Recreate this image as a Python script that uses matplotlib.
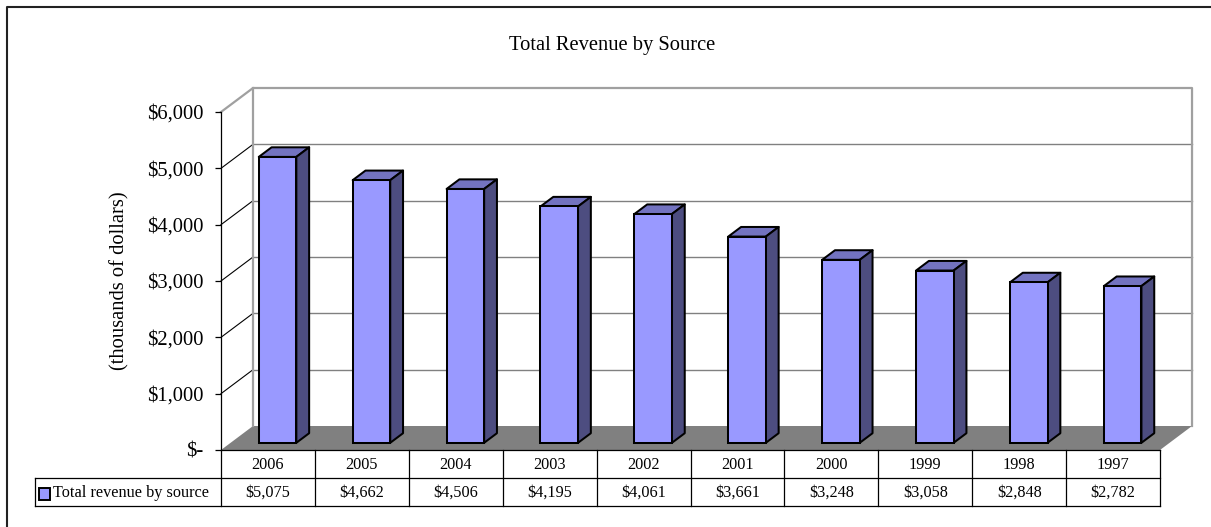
# 绘制 Total Revenue by Source 的三维柱状图（带数据表）。

import matplotlib
from matplotlib.lines import Line2D
from matplotlib.patches import Polygon, Rectangle

matplotlib.use("Agg")
import matplotlib.pyplot as plt

YEARS = ["2006", "2005", "2004", "2003", "2002", "2001", "2000", "1999", "1998", "1997"]
REVENUE = [5075, 4662, 4506, 4195, 4061, 3661, 3248, 3058, 2848, 2782]
Y_TICKS = [0, 1000, 2000, 3000, 4000, 5000, 6000]
TITLE = "Total Revenue by Source"
Y_LABEL = "(thousands of dollars)"
SERIES_NAME = "Total revenue by source"

FRONT = "#9999FF"
TOP = "#7373C0"
SIDE = "#4D4D80"
FLOOR = "#808080"
WALL_EDGE = "#A0A0A0"
GRID = "#808080"

W, H = 1211, 527
DEPTH_X = 0.341  # 墙的透视深度（类别单位）
DEPTH_Y = 426    # 墙的透视深度（数值单位）
BAR_DEPTH = (0.3, 0.7)
BAR_SPAN = (0.3, 0.7)
BAR_LW = 1.45


def fmt_money(v):
    return "$-" if v == 0 else f"${v:,.0f}"


def px_box(left, top, right, bottom):
    return [left / W, 1 - bottom / H, (right - left) / W, (bottom - top) / H]


def draw_walls(ax, n, ymax):
    dx, dy = DEPTH_X, DEPTH_Y
    # 地板
    ax.add_patch(Polygon([(0, 0), (n, 0), (n + dx, dy), (dx, dy)], closed=True,
                         facecolor=FLOOR, edgecolor="none", clip_on=False, zorder=1))
    # 背墙网格线与侧墙斜线
    for v in Y_TICKS[1:-1]:
        ax.plot([dx, n + dx], [v + dy, v + dy], color=GRID, lw=1.0, clip_on=False, zorder=1)
        ax.plot([0, dx], [v, v + dy], color="black", lw=0.8, clip_on=False, zorder=1)
    # 墙的边框
    ax.plot([0, dx, n + dx, n + dx], [ymax, ymax + dy, ymax + dy, dy],
            color=WALL_EDGE, lw=1.6, clip_on=False, zorder=1)
    ax.plot([dx, dx], [dy, ymax + dy], color=WALL_EDGE, lw=1.6, clip_on=False, zorder=1)


def draw_bars(ax):
    f0, f1 = BAR_DEPTH
    ox0, oy0 = DEPTH_X * f0, DEPTH_Y * f0
    ox1, oy1 = DEPTH_X * f1, DEPTH_Y * f1
    width = BAR_SPAN[1] - BAR_SPAN[0]
    lefts = [i + BAR_SPAN[0] + ox0 for i in range(len(REVENUE))]
    ax.bar(lefts, REVENUE, width=width, bottom=oy0, align="edge", color=FRONT,
           edgecolor="black", linewidth=BAR_LW, clip_on=False, zorder=3)
    for x0, v in zip(lefts, REVENUE):
        x1 = x0 + width
        top = [(x0, v + oy0), (x1, v + oy0), (x1 + ox1 - ox0, v + oy1), (x0 + ox1 - ox0, v + oy1)]
        side = [(x1, oy0), (x1 + ox1 - ox0, oy1), (x1 + ox1 - ox0, v + oy1), (x1, v + oy0)]
        ax.add_patch(Polygon(top, closed=True, facecolor=TOP, edgecolor="black",
                             lw=BAR_LW, clip_on=False, zorder=2, joinstyle="round"))
        ax.add_patch(Polygon(side, closed=True, facecolor=SIDE, edgecolor="black",
                             lw=BAR_LW, clip_on=False, zorder=2, joinstyle="round"))


def draw_table(tax, n):
    cat_px = (1160 - 221) / n
    leg_left = (35 - 221) / cat_px
    kw = dict(color="black", lw=0.9, clip_on=False)
    tax.plot([0, n], [0, 0], **kw)
    tax.plot([leg_left, n], [1, 1], **kw)
    tax.plot([leg_left, n], [2, 2], **kw)
    tax.plot([leg_left, leg_left], [1, 2], **kw)
    for i in range(n + 1):
        tax.plot([i, i], [0, 2], **kw)
    for i, (yr, v) in enumerate(zip(YEARS, REVENUE)):
        tax.text(i + 0.5, 0.52, yr, ha="center", va="center", fontsize=11.7)
        tax.text(i + 0.5, 1.52, fmt_money(v), ha="center", va="center", fontsize=11.7)
    # 图例色块
    tax.add_patch(Rectangle(((39 - 221) / cat_px, 1.79), 11 / cat_px, -0.42,
                            facecolor=FRONT, edgecolor="black", lw=1.4, clip_on=False))
    tax.text((53 - 221) / cat_px, 1.52, SERIES_NAME, ha="left", va="center", fontsize=11.7)


def main():
    plt.rcParams["font.family"] = ["Liberation Serif", "DejaVu Serif"]
    n = len(YEARS)
    ymax = Y_TICKS[-1]

    fig = plt.figure(figsize=(W / 100, H / 100), dpi=100)
    ax = fig.add_axes(px_box(221, 112, 1160, 450))
    ax.set_xlim(0, n)
    ax.set_ylim(0, ymax)
    ax.set_facecolor("none")
    for side in ("top", "right", "bottom"):
        ax.spines[side].set_visible(False)
    ax.spines["left"].set_color("black")
    ax.spines["left"].set_linewidth(0.9)
    ax.spines["left"].set_zorder(4)
    ax.set_xticks([])
    ax.set_yticks(Y_TICKS)
    ax.set_yticklabels([fmt_money(v) for v in Y_TICKS], fontsize=14.8)
    ax.tick_params(axis="y", direction="out", length=4.3, width=0.9, pad=8.4, color="black")
    ax.set_ylabel(Y_LABEL, fontsize=14.8)
    ax.yaxis.set_label_coords(-0.097, 0.5)

    draw_walls(ax, n, ymax)
    draw_bars(ax)

    tax = fig.add_axes(px_box(221, 450, 1160, 506))
    tax.set_xlim(0, n)
    tax.set_ylim(2, 0)
    tax.axis("off")
    draw_table(tax, n)

    fig.text(612 / W, 1 - 45 / H, TITLE, ha="center", va="center", fontsize=14.8)
    fig.add_artist(Line2D([7 / W, 7 / W, 1], [0, 1 - 6.5 / H, 1 - 6.5 / H],
                          transform=fig.transFigure, color="#222222", lw=1.5))

    fig.savefig("out.png", dpi=100)
    plt.close(fig)


if __name__ == "__main__":
    main()
